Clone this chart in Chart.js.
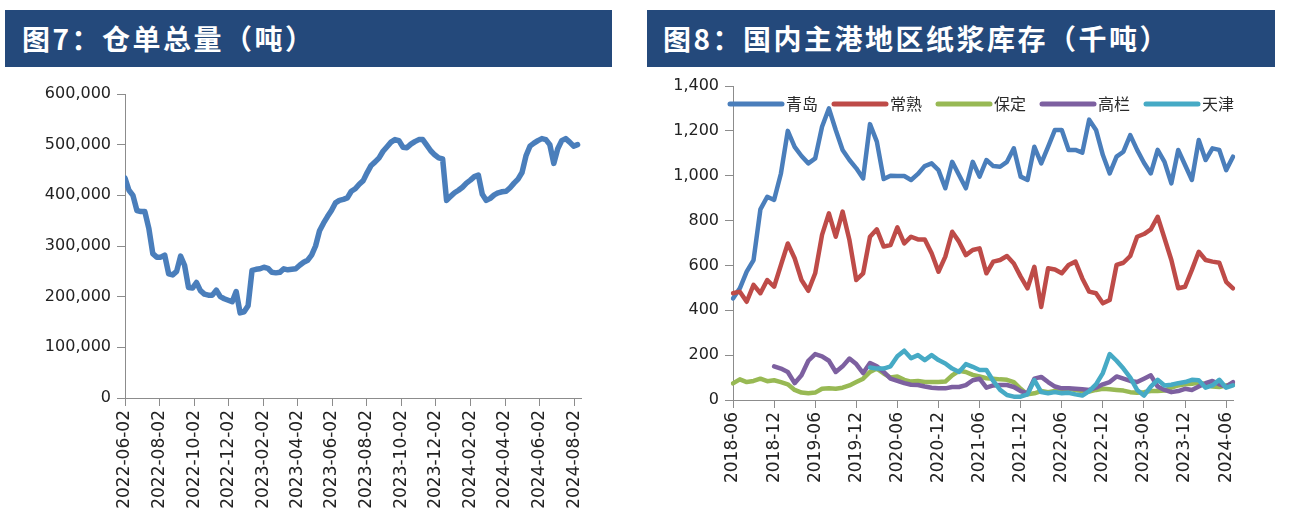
<!DOCTYPE html>
<html>
<head>
<meta charset="utf-8">
<script src="https://cdn.jsdelivr.net/npm/chart.js@4.4.1/dist/chart.umd.min.js"></script>
<style>
    body { margin: 0; background: #ffffff; width: 1298px; height: 518px; position: relative; overflow: hidden; }
    .title {
        position: absolute;
        top: 10px;
        height: 57px;
        background: #24497b;
        color: #ffffff;
        font-family: "Noto Sans CJK SC", sans-serif;
        font-weight: bold;
        font-size: 28px;
        letter-spacing: 2.5px;
        line-height: 57px;
        padding-left: 17px;
        box-sizing: border-box;
        white-space: nowrap;
    }
    canvas { position: absolute; top: 70px; }
</style>
</head>
<body>

<div class="title" style="left:5px; width:607px;">图7：仓单总量（吨）</div>
<div class="title" style="left:647px; width:628px; padding-left:16px;">图8：国内主港地区纸浆库存（千吨）</div>

<canvas id="stockChart" width="640" height="448" style="left:0px;"></canvas>
<canvas id="portChart" width="658" height="448" style="left:640px;"></canvas>

<script>
// ===============================
// 图7 仓单总量 / 图8 主港纸浆库存
// ===============================

// ---------- 图7 data (weekly readings, tonnes) ----------

const stockStart = "2022-06-02";
const stockEnd = "2024-08-14";
const stockStepDays = 7;

const stockValues = [
    434000, 410000, 400000, 370000, 368000, 368000, 335000, 285000, 278000, 278000,
    282000, 245000, 243000, 250000, 280000, 262000, 218000, 217000, 228000, 212000,
    205000, 203000, 203000, 213000, 200000, 196000, 193000, 190000, 210000, 168000,
    170000, 182000, 252000, 254000, 255000, 258000, 256000, 248000, 247000, 248000,
    255000, 253000, 254000, 255000, 262000, 268000, 272000, 282000, 300000, 330000,
    345000, 358000, 370000, 385000, 390000, 392000, 395000, 408000, 413000, 422000,
    429000, 445000, 459000, 466000, 474000, 487000, 496000, 505000, 510000, 508000,
    495000, 494000, 501000, 506000, 510000, 510000, 499000, 488000, 480000, 474000,
    472000, 390000, 398000, 405000, 410000, 416000, 424000, 430000, 437000, 440000,
    402000, 390000, 394000, 401000, 405000, 407000, 408000, 415000, 424000, 432000,
    445000, 478000, 497000, 503000, 508000, 512000, 510000, 500000, 463000, 492000,
    508000, 512000, 505000, 497000, 500000
];

const stockTickLabels = [
    "2022-06-02", "2022-08-02", "2022-10-02", "2022-12-02", "2023-02-02",
    "2023-04-02", "2023-06-02", "2023-08-02", "2023-10-02", "2023-12-02",
    "2024-02-02", "2024-04-02", "2024-06-02", "2024-08-02"
];

// ---------- 图8 data (monthly, thousand tonnes) ----------

const portMonths = [
    "2018-06", "2018-07", "2018-08", "2018-09", "2018-10", "2018-11", "2018-12",
    "2019-01", "2019-02", "2019-03", "2019-04", "2019-05", "2019-06", "2019-07", "2019-08", "2019-09", "2019-10", "2019-11", "2019-12",
    "2020-01", "2020-02", "2020-03", "2020-04", "2020-05", "2020-06", "2020-07", "2020-08", "2020-09", "2020-10", "2020-11", "2020-12",
    "2021-01", "2021-02", "2021-03", "2021-04", "2021-05", "2021-06", "2021-07", "2021-08", "2021-09", "2021-10", "2021-11", "2021-12",
    "2022-01", "2022-02", "2022-03", "2022-04", "2022-05", "2022-06", "2022-07", "2022-08", "2022-09", "2022-10", "2022-11", "2022-12",
    "2023-01", "2023-02", "2023-03", "2023-04", "2023-05", "2023-06", "2023-07", "2023-08", "2023-09", "2023-10", "2023-11", "2023-12",
    "2024-01", "2024-02", "2024-03", "2024-04", "2024-05", "2024-06", "2024-07"
];

const portTickLabels = [
    "2018-06", "2018-12", "2019-06", "2019-12", "2020-06", "2020-12", "2021-06",
    "2021-12", "2022-06", "2022-12", "2023-06", "2023-12", "2024-06"
];

const qingdao = [
    453, 498, 572, 624, 850, 906, 892, 1010, 1200, 1129,
    1088, 1055, 1077, 1218, 1300, 1204, 1115, 1070, 1033, 988,
    1230, 1152, 985, 1000, 999, 999, 981, 1008, 1043, 1055,
    1025, 944, 1062, 1003, 944, 1062, 996, 1070, 1043, 1040,
    1062, 1122, 996, 981, 1129, 1055, 1129, 1204, 1204, 1115,
    1115, 1103, 1250, 1204, 1092, 1010, 1085, 1107, 1181, 1115,
    1058, 1010, 1115, 1062, 966, 1115, 1048, 981, 1159, 1070,
    1122, 1115, 1025, 1085
];

const changshu = [
    476, 483, 438, 513, 476, 535, 505, 602, 698, 632,
    535, 487, 565, 736, 832, 728, 840, 713, 535, 565,
    728, 761, 684, 691, 770, 698, 728, 716, 716, 654,
    572, 639, 750, 706, 646, 669, 676, 565, 617, 624,
    642, 609, 550, 498, 594, 415, 587, 582, 565, 602,
    617, 542, 483, 476, 431, 446, 602, 612, 642, 728,
    740, 761, 817, 721, 624, 498, 505, 580, 661, 624,
    617, 612, 527, 498
];

const baoding = [
    74, 92, 80, 85, 95, 84, 88, 80, 70, 45,
    33, 30, 33, 50, 52, 50, 55, 65, 80, 95,
    125, 140, 118, 100, 105, 90, 82, 85, 80, 80,
    80, 82, 110, 130, 125, 112, 105, 97, 95, 92,
    90, 80, 50, 25, 30, 40, 35, 40, 45, 50,
    45, 40, 38, 45, 50, 48, 45, 42, 35, 32,
    35, 40, 40, 42, 55, 65, 70, 72, 78, 70,
    60, 58, 65, 70
];

const gaolan = [
    null, null, null, null, null, null, 150, 140, 125, 75,
    110, 175, 205, 195, 175, 125, 150, 185, 160, 120,
    165, 150, 125, 95, 85, 75, 68, 67, 60, 55,
    52, 52, 58, 58, 66, 88, 95, 55, 65, 67,
    67, 58, 40, 30, 95, 103, 80, 60, 52, 52,
    50, 48, 45, 55, 70, 80, 105, 95, 85, 80,
    95, 110, 60, 45, 35, 40, 50, 45, 60, 75,
    85, 70, 60, 80
];

const tianjin = [
    null, null, null, null, null, null, null, null, null, null,
    null, null, null, null, null, null, null, null, null, null,
    145, 140, 140, 150, 195, 220, 186, 200, 178, 200,
    178, 163, 140, 125, 160, 148, 134, 134, 85, 45,
    22, 15, 15, 25, 89, 35, 30, 35, 30, 32,
    25, 20, 40, 70, 120, 205, 175, 140, 100, 45,
    20, 60, 90, 65, 68, 75, 80, 90, 88, 55,
    65, 90, 55, 65
];

const portSeriesNames = ["青岛", "常熟", "保定", "高栏", "天津"];
const portSeriesColors = ["#4a7ebb", "#be4b48", "#98b954", "#7d60a0", "#46aac5"];

// ---------- Shared look ----------

Chart.defaults.font.family = "'DejaVu Sans', sans-serif";
Chart.defaults.color = "#333333";

const axisGrey = "#8c8c8c";

function dayOffset(dateText) {
    return (Date.parse(dateText) - Date.parse(stockStart)) / 86400000;
}

// ---------- 图7 chart ----------

const stockTickDays = stockTickLabels.map(dayOffset);

new Chart(document.getElementById("stockChart"), {
    type: "line",
    data: {
        datasets: [{
            label: "仓单总量",
            data: stockValues.map((v, i) => ({ x: i * stockStepDays, y: v })),
            borderColor: "#4a7ebb",
            borderWidth: 5.5,
            borderJoinStyle: "round",
            borderCapStyle: "round",
            pointRadius: 0,
            tension: 0
        }]
    },
    options: {
        responsive: false,
        animation: false,
        layout: { padding: { top: 24, right: 59, left: 0, bottom: 0 } },
        plugins: { legend: { display: false }, tooltip: { enabled: false } },
        scales: {
            x: {
                type: "linear",
                min: 0,
                max: dayOffset(stockEnd),
                afterBuildTicks: scale => {
                    scale.ticks = stockTickDays.map(d => ({ value: d }));
                },
                afterFit: scale => { scale.height = 120; },
                ticks: {
                    autoSkip: false,
                    minRotation: 90,
                    maxRotation: 90,
                    padding: 4,
                    font: { size: 17 },
                    color: "#222222",
                    callback: value => stockTickLabels[stockTickDays.indexOf(value)]
                },
                grid: { drawOnChartArea: false, tickLength: 8, color: axisGrey },
                border: { color: axisGrey }
            },
            y: {
                min: 0,
                max: 600000,
                afterFit: scale => { scale.width = 125; },
                ticks: {
                    stepSize: 100000,
                    padding: 6,
                    font: { size: 16 },
                    color: "#222222",
                    callback: value => value.toLocaleString("en-US")
                },
                grid: { drawOnChartArea: false, tickLength: 8, color: axisGrey },
                border: { color: axisGrey }
            }
        }
    }
});

// ---------- 图8 legend (drawn inside plot) ----------

const insideLegend = {
    id: "insideLegend",
    afterDatasetsDraw(chart) {
        const c = chart.ctx;
        const area = chart.chartArea;
        let x = area.left - 5;
        const y = area.top + 18;

        c.save();
        c.font = "16px 'Noto Sans CJK SC'";
        c.textBaseline = "middle";

        portSeriesNames.forEach((name, i) => {
            c.strokeStyle = portSeriesColors[i];
            c.lineWidth = 5;
            c.lineCap = "round";
            c.beginPath();
            c.moveTo(x + 2, y);
            c.lineTo(x + 54, y);
            c.stroke();

            c.fillStyle = "#2a2a2a";
            c.fillText(name, x + 58, y);

            x += 58 + c.measureText(name).width + 14;
        });

        c.restore();
    }
};

// ---------- 图8 chart ----------

const portSeries = [qingdao, changshu, baoding, gaolan, tianjin];

new Chart(document.getElementById("portChart"), {
    type: "line",
    data: {
        labels: portMonths,
        datasets: portSeries.map((values, i) => ({
            label: portSeriesNames[i],
            data: values,
            borderColor: portSeriesColors[i],
            borderWidth: 4.5,
            borderJoinStyle: "round",
            borderCapStyle: "round",
            pointRadius: 0,
            tension: 0,
            order: portSeries.length - i
        }))
    },
    options: {
        responsive: false,
        animation: false,
        layout: { padding: { top: 16, right: 65, left: 0, bottom: 0 } },
        plugins: { legend: { display: false }, tooltip: { enabled: false } },
        scales: {
            x: {
                afterBuildTicks: scale => {
                    scale.ticks = scale.ticks.filter(t => portTickLabels.includes(portMonths[t.value]));
                },
                afterFit: scale => { scale.height = 118; },
                ticks: {
                    autoSkip: false,
                    minRotation: 90,
                    maxRotation: 90,
                    padding: 4,
                    font: { size: 17 },
                    color: "#222222"
                },
                grid: { drawOnChartArea: false, tickLength: 8, color: axisGrey },
                border: { color: axisGrey }
            },
            y: {
                min: 0,
                max: 1400,
                afterFit: scale => { scale.width = 93; },
                ticks: {
                    stepSize: 200,
                    padding: 6,
                    font: { size: 16 },
                    color: "#222222",
                    callback: value => value.toLocaleString("en-US")
                },
                grid: { drawOnChartArea: false, tickLength: 8, color: axisGrey },
                border: { color: axisGrey }
            }
        }
    },
    plugins: [insideLegend]
});
</script>
</body>
</html>
